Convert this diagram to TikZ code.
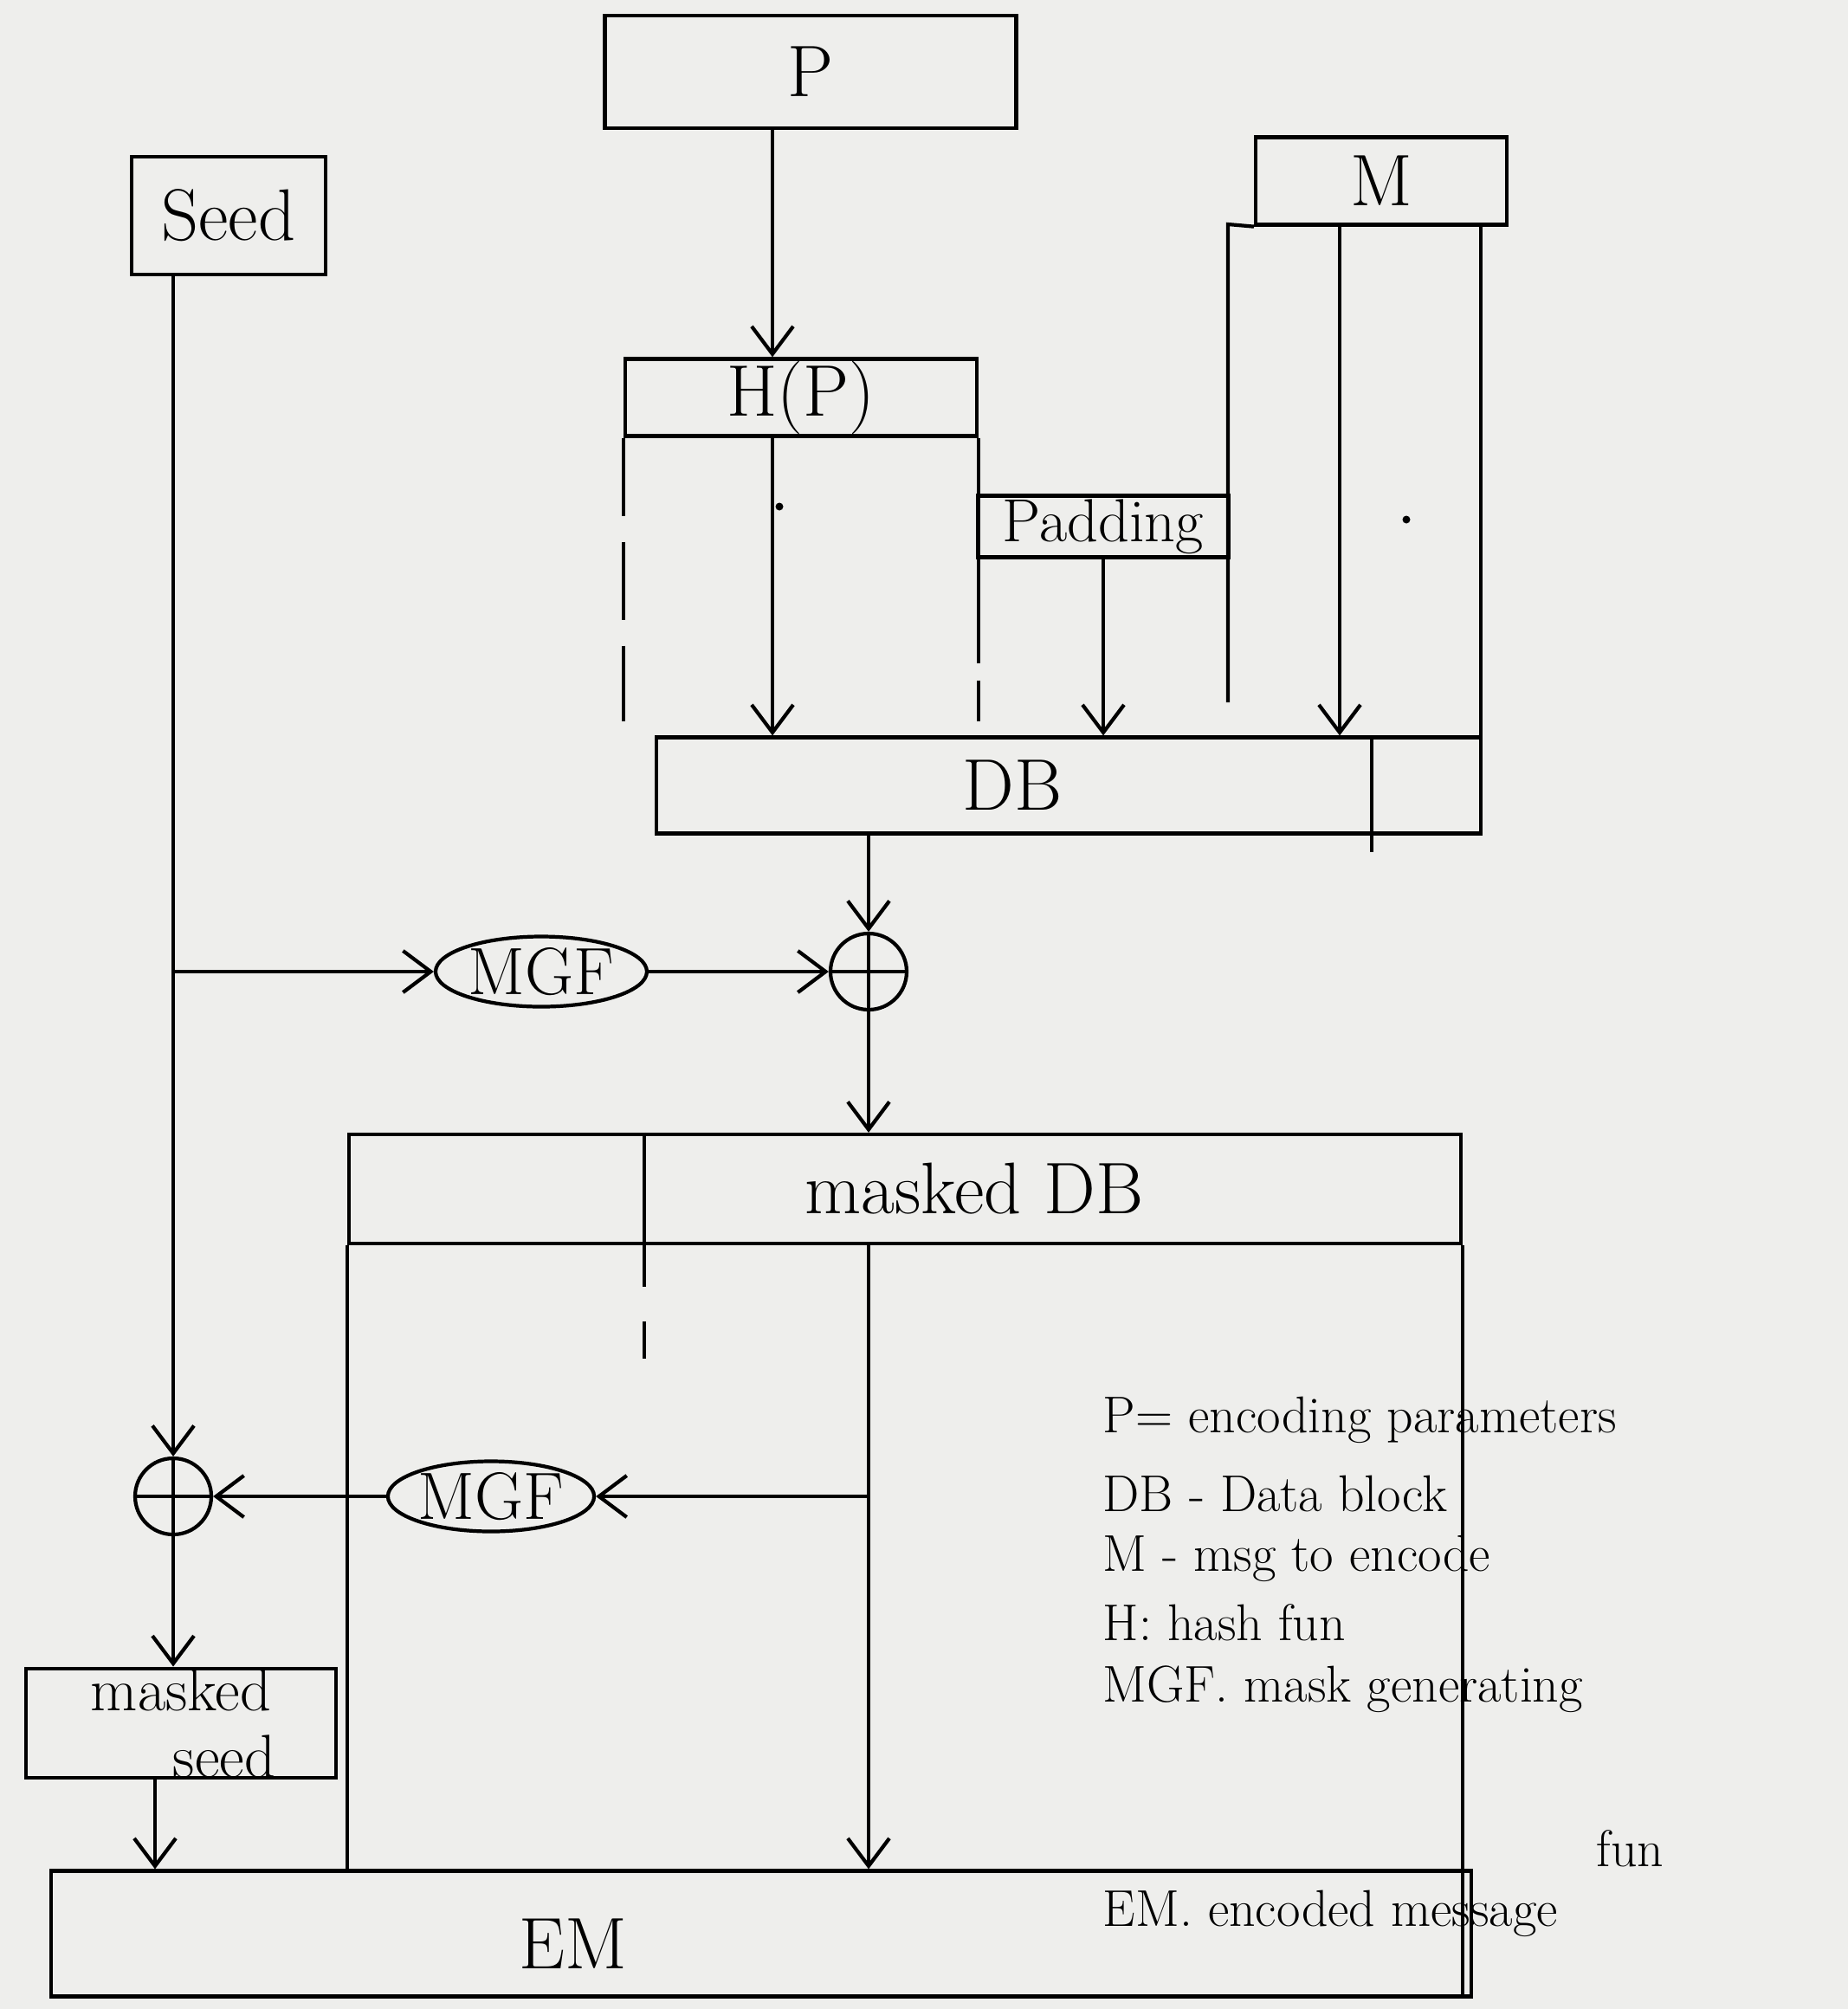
\documentclass[tikz,border=0pt]{standalone}
\usepackage{tikz}
\usetikzlibrary{arrows.meta,shapes.geometric,calc}
\tikzset{>={Straight Barb[length=3.2mm,width=4.8mm]}}
\definecolor{paper}{HTML}{EEEEEC}
\tikzset{
  wire/.style={line width=1.2pt},
  blk/.style={draw,wire,rectangle,inner sep=0pt,font=\fontsize{24}{28}\selectfont},
  mgfop/.style={draw,wire,ellipse,inner sep=0pt,font=\fontsize{22}{26}\selectfont},
  xorop/.style={draw,wire,circle,inner sep=0pt,minimum size=0.88cm,
    path picture={\draw[wire] (path picture bounding box.north) -- (path picture bounding box.south)
      (path picture bounding box.west) -- (path picture bounding box.east);}},
  note/.style={anchor=west,inner sep=0pt,font=\fontsize{17}{20}\selectfont},
}

\begin{document}
\begin{tikzpicture}
\fill[paper] (0,0) rectangle (21.34,-23.20);
\useasboundingbox (0,0) rectangle (21.34,-23.20);

% inputs
\node[blk,minimum width=4.75cm,minimum height=1.30cm] (p) at (9.36,-0.83) {P};
\node[blk,minimum width=2.24cm,minimum height=1.36cm] (seed) at (2.64,-2.49) {Seed};
\node[blk,minimum width=2.90cm,minimum height=1.01cm] (m) at (15.95,-2.09) {M};

% data block
\node[blk,minimum width=4.06cm,minimum height=0.89cm] (hp) at (9.25,-4.59) {H(P)};
\node[blk,minimum width=2.89cm,minimum height=0.71cm,font=\fontsize{20}{24}\selectfont] (pad) at (12.74,-6.08) {Padding};
\node[blk,minimum width=9.52cm,minimum height=1.11cm] (db) at (12.34,-9.07) {};
\node[font=\fontsize{24}{28}\selectfont] (dblabel) at (11.69,-9.07) {DB};

% masking
\node[mgfop,minimum width=2.44cm,minimum height=0.81cm] (mgf1) at (6.25,-11.22) {MGF};
\node[xorop] (xor1) at (10.03,-11.22) {};
\node[blk,minimum width=12.84cm,minimum height=1.26cm] (mdb) at (10.45,-13.73) {};
\node[font=\fontsize{24}{28}\selectfont] (mdblabel) at (11.25,-13.73) {masked DB};
\node[mgfop,minimum width=1.48cm,minimum height=0.81cm] (mgf2) at (5.67,-17.28) {MGF};
\node[xorop] (xor2) at (2.00,-17.28) {};
\node[blk,minimum width=3.58cm,minimum height=1.19cm,align=center,font=\fontsize{20}{22}\selectfont] (mseed) at (2.09,-19.90) {masked\\ \hspace*{1cm}seed};

% output
\node[blk,minimum width=16.40cm,minimum height=1.45cm] (em) at (8.79,-22.33) {};
\node[font=\fontsize{24}{28}\selectfont] (emlabel) at (6.62,-22.45) {EM};

% columns
\coordinate (colh) at (8.92,0);
\coordinate (colm) at (15.47,0);
\coordinate (mr) at (17.10,-2.59);
\coordinate (ml) at (14.18,-2.59);
\coordinate (dbsplit) at (15.84,-9.84);
\coordinate (mdbsplit) at (7.44,-14.36);

\draw[->,wire] (p.south -| colh) -- (hp.north -| colh);
\draw[->,wire] (hp.south -| colh) -- (db.north -| colh);
\draw[->,wire] (pad.south) -- (pad.south |- db.north);
\draw[->,wire] (m.south -| colm) -- (db.north -| colm);
\draw[wire] (m.south west) -- (ml) -- ++(0,-5.52);
\draw[wire] (mr) -- (mr |- db.north);
\draw[wire] (dbsplit |- db.north) -- (dbsplit);
\draw[wire,dashed,dash pattern=on 9mm off 3mm] (hp.south west) -- ++(0,-3.27);
\draw[wire,dashed,dash pattern=on 12mm off 2mm] (hp.south east) -- ++(0,-3.27);
\fill (9.00,-5.85) circle (0.045);
\fill (16.24,-6.00) circle (0.045);

\draw[->,wire] (db.south -| xor1) -- (xor1);
\draw[->,wire] (seed.south -| xor2) -- (xor2);
\draw[->,wire] (mgf1.west -| xor2) -- (mgf1);
\draw[->,wire] (mgf1) -- (xor1);
\draw[->,wire] (xor1) -- (xor1 |- mdb.north);
\draw[wire] (mdbsplit |- mdb.north) -- (mdbsplit);
\draw[wire,dashed,dash pattern=on 5mm off 4mm] (mdbsplit) -- ++(0,-1.33);

\draw[->,wire] (mdb.south -| xor1) -- (em.north -| xor1);
\draw[->,wire] (mgf2 -| xor1) -- (mgf2);
\draw[->,wire] (mgf2) -- (xor2);
\draw[->,wire] (xor2) -- (xor2 |- mseed.north);
\draw[->,wire] ([xshift=-3mm]mseed.south) -- ([xshift=-3mm]mseed.south |- em.north);
\draw[wire] (mdb.south west) -- (mdb.south west |- em.north);
\draw[wire] (mdb.south east) -- (mdb.south east |- em.south);

% legend
\node[note] (k1) at (12.73,-16.40) {P= encoding parameters};
\node[note] (k2) at (12.73,-17.25) {DB - Data block};
\node[note] (k3) at (12.73,-18.00) {M - msg to encode};
\node[note] (k4) at (12.73,-18.74) {H: hash fun};
\node[note] (k5) at (12.73,-19.51) {MGF. mask generating};
\node[note] (k6) at (18.43,-21.35) {fun};
\node[note] (k7) at (12.73,-22.10) {EM. encoded message};
\end{tikzpicture}
\end{document}
